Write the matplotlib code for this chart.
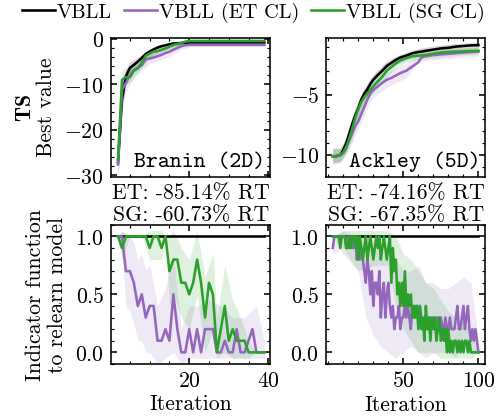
import numpy as np
import matplotlib
matplotlib.use("Agg")
import matplotlib.pyplot as plt

plt.rcParams["font.family"] = ["cmr10", "DejaVu Serif"]
plt.rcParams["mathtext.fontset"] = "cm"
plt.rcParams["axes.formatter.use_mathtext"] = True
plt.rcParams["font.size"] = 11
plt.rcParams["axes.linewidth"] = 0.8
plt.rcParams["xtick.direction"] = "in"
plt.rcParams["ytick.direction"] = "in"
plt.rcParams["xtick.top"] = True
plt.rcParams["ytick.right"] = True
plt.rcParams["xtick.major.size"] = 3
plt.rcParams["ytick.major.size"] = 3
plt.rcParams["xtick.minor.size"] = 1.5
plt.rcParams["ytick.minor.size"] = 1.5
plt.rcParams["xtick.minor.visible"] = True
plt.rcParams["ytick.minor.visible"] = True

labels = ["VBLL", "VBLL (ET CL)", "VBLL (SG CL)"]
colors = ["black", "#9467bd", "#2ca02c"]

# ---- Branin (2D), iterations 2..39 ----
branin_iter = np.arange(2, 40)
branin_best = {
    "VBLL": [-27.1, -13.3, -8.2, -6.4, -5.7, -5.0, -4.2, -3.3, -2.8, -2.3,
             -1.9, -1.6, -1.4, -1.2, -1.0, -0.95, -0.9, -0.85] + [-0.8] * 20,
    "VBLL (ET CL)": [-27.6, -11.2, -9.7, -8.0, -6.8, -6.3, -5.8, -4.5, -4.3, -4.1,
                     -3.8, -3.5, -3.1, -2.8, -2.4, -2.0, -1.6, -1.4] + [-1.3] * 20,
    "VBLL (SG CL)": [-26.5, -9.0, -8.4, -8.4, -7.0, -6.5, -5.3, -3.7, -3.2, -2.8,
                     -2.7, -2.4, -2.1, -1.7, -1.3, -1.1, -0.9, -0.6] + [-0.45] * 20,
}
branin_best_band = {
    "VBLL": ([2, 3, 4, 5, 6, 8, 10, 12, 15, 18, 20, 25, 30, 39],
             [-30.5, -16, -10, -8, -7, -5.5, -4, -3, -2, -1.3, -1.2, -1.1, -1.1, -1.1],
             [-24, -10, -6.5, -5, -4.5, -3.5, -2.2, -1.5, -0.9, -0.5, -0.5, -0.5, -0.5, -0.5]),
    "VBLL (ET CL)": ([2, 3, 4, 5, 6, 8, 10, 12, 15, 18, 20, 25, 39],
                     [-30.5, -14, -12, -10, -8.5, -7, -5.5, -4.8, -3.8, -2.4, -1.8, -1.7, -1.7],
                     [-25, -9, -7.5, -6.5, -5.5, -4.5, -3.3, -3.0, -2.0, -1.0, -0.9, -0.9, -0.9]),
    "VBLL (SG CL)": ([2, 3, 4, 5, 6, 8, 10, 12, 15, 18, 20, 25, 39],
                     [-28, -11, -10, -9.5, -8.5, -6.3, -4.2, -3.4, -2.4, -1.3, -0.8, -0.7, -0.7],
                     [-25, -6.5, -6.5, -6.5, -5.5, -4.0, -2.3, -1.9, -1.1, -0.5, -0.2, -0.2, -0.2]),
}
branin_ind = {
    "VBLL": [1.0] * 38,
    "VBLL (ET CL)": [1.0, 1.0, 0.7, 0.7, 0.6, 0.4, 0.5, 0.3, 0.4, 0.4,
                     0.1, 0.1, 0.2, 0.1, 0.5, 0.2, 0.0, 0.0, 0.2, 0.0,
                     0.2, 0.0, 0.2, 0.2, 0.2, 0.0, 0.0, 0.1, 0.0, 0.0,
                     0.2, 0.0, 0.0, 0.1, 0.2, 0.0, 0.0, 0.0],
    "VBLL (SG CL)": [1.0, 0.9, 1.0, 1.0, 1.0, 1.0, 1.0, 1.0, 0.9, 1.0,
                     1.0, 0.9, 1.0, 0.7, 0.8, 0.8, 0.6, 0.6, 0.5, 0.6,
                     0.8, 0.6, 0.3, 0.6, 0.5, 0.0, 0.2, 0.4, 0.1, 0.2,
                     0.1, 0.1, 0.1, 0.0, 0.0, 0.0, 0.0, 0.0],
}
branin_ind_band = {
    "VBLL (ET CL)": ([2, 3, 4, 5, 6, 7, 8, 9, 10, 12, 14, 16, 18, 20, 22, 25, 28, 31, 34, 37, 39],
                     [1.0, 0.85, 0.4, 0.35, 0.25, 0.1, 0.1, 0.0, 0.0, -0.1, -0.05, 0.0, -0.1, -0.05,
                      -0.05, -0.05, -0.05, -0.05, -0.05, -0.05, -0.05],
                     [1.0, 1.05, 1.0, 1.0, 0.95, 0.8, 0.85, 0.7, 0.75, 0.4, 0.55, 0.85, 0.2, 0.4,
                      0.4, 0.45, 0.4, 0.3, 0.3, 0.4, 0.1]),
    "VBLL (SG CL)": ([2, 3, 5, 8, 10, 13, 14, 15, 16, 18, 20, 22, 24, 26, 27, 29, 31, 33, 35, 37, 39],
                     [1.0, 0.8, 1.0, 1.0, 0.8, 0.8, 1.0, 0.4, 0.5, 0.3, 0.2, 0.5, 0.0, 0.2, -0.05,
                      0.0, -0.05, -0.05, -0.05, 0.0, 0.0],
                     [1.0, 1.05, 1.0, 1.0, 1.05, 1.05, 1.0, 1.0, 1.05, 0.9, 0.8, 1.05, 0.65, 0.85,
                      0.3, 0.75, 0.45, 0.3, 0.1, 0.0, 0.0]),
}

# ---- Ackley (5D) ----
ackley_iter = [3, 5, 8, 10, 12, 14, 16, 18, 20, 22, 24, 26, 28, 30, 33, 36, 39, 42, 45,
               48, 52, 56, 60, 62, 65, 70, 75, 80, 85, 90, 95, 100]
ackley_best = {
    "VBLL": [-10.1, -10.1, -10.0, -9.6, -9.0, -8.2, -7.4, -6.7, -6.1, -5.4, -4.9, -4.55,
             -4.1, -3.75, -3.35, -3.0, -2.6, -2.35, -2.1, -1.9, -1.75, -1.55, -1.45, -1.42,
             -1.35, -1.25, -1.15, -1.1, -1.0, -0.95, -0.9, -0.88],
    "VBLL (ET CL)": [-10.1, -10.1, -10.0, -9.8, -9.3, -8.8, -8.2, -7.6, -7.2, -6.6, -6.0,
                     -5.4, -4.9, -4.6, -4.3, -4.0, -3.75, -3.6, -3.4, -3.2, -3.0, -2.65,
                     -2.3, -1.9, -1.8, -1.7, -1.65, -1.6, -1.55, -1.5, -1.45, -1.42],
    "VBLL (SG CL)": [-10.1, -10.1, -10.0, -9.8, -9.4, -8.6, -7.8, -6.9, -6.2, -5.6, -5.2,
                     -4.9, -4.6, -4.3, -3.9, -3.5, -3.0, -2.7, -2.4, -2.15, -1.95, -1.8,
                     -1.75, -1.73, -1.7, -1.6, -1.5, -1.45, -1.42, -1.4, -1.37, -1.35],
}
ackley_band_x = [3, 8, 12, 16, 20, 24, 28, 33, 39, 45, 52, 60, 70, 80, 90, 100]
ackley_best_band = {
    "VBLL": (ackley_band_x,
             [-10.6, -10.5, -9.7, -8.0, -6.7, -5.4, -4.6, -3.8, -3.0, -2.5, -2.1, -1.8, -1.55, -1.4, -1.25, -1.15],
             [-9.5, -9.5, -8.5, -6.8, -5.5, -4.4, -3.6, -2.9, -2.2, -1.8, -1.45, -1.15, -0.95, -0.8, -0.7, -0.65]),
    "VBLL (ET CL)": (ackley_band_x,
                     [-10.7, -10.6, -9.9, -8.9, -7.8, -6.7, -5.5, -4.9, -4.4, -4.0, -3.6, -2.2, -2.1, -2.0, -1.9, -1.8],
                     [-9.5, -9.4, -8.7, -7.5, -6.6, -5.3, -4.3, -3.7, -3.1, -2.8, -2.4, -1.6, -1.35, -1.25, -1.2, -1.1]),
    "VBLL (SG CL)": (ackley_band_x,
                     [-10.8, -10.6, -10.0, -8.7, -6.9, -5.7, -5.1, -4.4, -3.5, -2.8, -2.3, -2.1, -1.95, -1.8, -1.7, -1.65],
                     [-9.4, -9.4, -8.8, -7.3, -5.5, -4.7, -4.1, -3.4, -2.5, -2.0, -1.6, -1.4, -1.3, -1.1, -1.1, -1.05]),
}
ackley_ind_iter = np.arange(3, 101)
ackley_ind = {
    "VBLL": [1.0] * 98,
    "VBLL (ET CL)": [0.9, 1.0, 1.0, 1.0, 1.0, 1.0, 1.0, 1.0, 1.0, 0.9,
                     1.0, 0.9, 1.0, 0.9, 0.9, 1.0, 0.8, 0.9, 0.8, 0.9,
                     0.8, 0.7, 0.6, 0.8, 0.7, 0.5, 0.7, 0.4, 0.6, 0.6,
                     0.5, 0.7, 0.3, 0.5, 0.6, 0.3, 0.5, 0.6, 0.4, 0.3,
                     0.4, 0.2, 0.3, 0.3, 0.4, 0.2, 0.3, 0.3, 0.4, 0.3,
                     0.4, 0.3, 0.2, 0.4, 0.3, 0.4, 0.4, 0.3, 0.4, 0.3,
                     0.2, 0.3, 0.3, 0.2, 0.3, 0.3, 0.2, 0.3, 0.2, 0.3,
                     0.3, 0.2, 0.3, 0.2, 0.2, 0.3, 0.2, 0.2, 0.3, 0.2,
                     0.2, 0.2, 0.3, 0.4, 0.2, 0.2, 0.3, 0.4, 0.2, 0.3,
                     0.4, 0.2, 0.1, 0.2, 0.1, 0.2, 0.1, 0.0],
    "VBLL (SG CL)": [1.0, 1.0, 1.0, 1.0, 1.0, 0.9, 1.0, 1.0, 1.0, 0.9,
                     0.9, 1.0, 0.9, 1.0, 1.0, 0.9, 1.0, 0.8, 1.0, 0.9,
                     0.8, 0.9, 1.0, 0.8, 0.9, 1.0, 0.9, 0.8, 0.9, 1.0,
                     0.9, 1.0, 0.8, 0.9, 1.0, 0.9, 0.8, 0.9, 1.0, 0.6,
                     0.9, 0.7, 0.8, 0.5, 0.6, 0.4, 0.6, 0.4, 0.7, 0.4,
                     0.5, 0.4, 0.5, 0.3, 0.4, 0.3, 0.4, 0.2, 0.4, 0.2,
                     0.3, 0.1, 0.4, 0.2, 0.3, 0.1, 0.3, 0.2, 0.3, 0.1,
                     0.2, 0.3, 0.1, 0.2, 0.1, 0.2, 0.0, 0.2, 0.0, 0.1,
                     0.0, 0.1, 0.1, 0.0, 0.1, 0.0, 0.1, 0.0, 0.1, 0.1,
                     0.0, 0.1, 0.0, 0.0, 0.0, 0.0, 0.0, 0.0],
}
ackley_ind_band = {
    "VBLL (ET CL)": ([3, 10, 20, 25, 30, 35, 40, 45, 50, 55, 60, 65, 70, 75, 80, 85, 90, 95, 100],
                     [0.85, 0.9, 0.7, 0.3, 0.15, 0.05, 0.0, -0.05, 0.0, 0.05, 0.0, -0.05, 0.0,
                      0.0, 0.0, -0.05, 0.1, 0.0, 0.0],
                     [1.0, 1.05, 1.0, 1.0, 0.95, 0.9, 0.8, 0.8, 0.7, 0.7, 0.75, 0.6, 0.6, 0.55,
                      0.55, 0.6, 0.65, 0.6, 0.1]),
    "VBLL (SG CL)": ([3, 10, 20, 30, 40, 45, 50, 55, 60, 65, 70, 75, 80, 85, 90, 95, 100],
                     [1.0, 0.85, 0.7, 0.75, 0.75, 0.4, 0.2, 0.1, 0.0, 0.0, 0.0, -0.05, -0.05,
                      -0.05, -0.05, -0.05, 0.0],
                     [1.0, 1.05, 1.05, 1.05, 1.05, 1.0, 0.85, 0.8, 0.7, 0.6, 0.55, 0.45, 0.35,
                      0.3, 0.25, 0.2, 0.0]),
}

DPI = 142.57
W, H = 499, 419
fig = plt.figure(figsize=((W + 0.5) / DPI, (H + 0.5) / DPI), dpi=DPI)

def add_ax(l, r, t, b):
    return fig.add_axes([l / W, 1 - b / H, (r - l) / W, (b - t) / H])

ax_bt = add_ax(111, 270, 38, 177)
ax_at = add_ax(326, 485, 38, 177)
ax_bb = add_ax(111, 270, 225, 364)
ax_ab = add_ax(326, 485, 225, 364)

def draw(ax, x, means, bands):
    for lab, col in zip(labels, colors):
        if lab in bands:
            bx, lo, hi = bands[lab]
            ax.fill_between(bx, lo, hi, color=col, alpha=0.15, lw=0)
    for lab, col in zip(labels, colors):
        ax.plot(x, means[lab], color=col, lw=1.3, label=lab)

draw(ax_bt, branin_iter, branin_best, branin_best_band)
draw(ax_at, ackley_iter, ackley_best, ackley_best_band)
draw(ax_bb, branin_iter, branin_ind, branin_ind_band)
draw(ax_ab, ackley_ind_iter, ackley_ind, ackley_ind_band)

for ax in (ax_bt, ax_bb):
    ax.set_xlim(0.25, 40.5)
    ax.set_xticks([20, 40])
for ax in (ax_at, ax_ab):
    ax.set_xlim(-1.3, 104.7)
    ax.set_xticks([50, 100])
ax_bt.tick_params(labelbottom=False)
ax_at.tick_params(labelbottom=False)

ax_bt.set_ylim(-30.3, 0.3)
ax_bt.set_yticks([0, -10, -20, -30])
ax_at.set_ylim(-11.8, -0.25)
ax_at.set_yticks([-5, -10])
for ax in (ax_bb, ax_ab):
    ax.set_ylim(-0.1, 1.1)
    ax.set_yticks([0.0, 0.5, 1.0])
    ax.set_xlabel("Iteration", labelpad=2)

ax_bt.text(0.97, 0.04, "Branin (2D)", transform=ax_bt.transAxes, ha="right", va="bottom",
           family="cmtt10", fontsize=11.5)
ax_at.text(0.97, 0.04, "Ackley (5D)", transform=ax_at.transAxes, ha="right", va="bottom",
           family="cmtt10", fontsize=11.5)

ax_bb.set_title("ET: -85.14% RT\nSG: -60.73% RT", fontsize=11, linespacing=1.15, pad=1)
ax_ab.set_title("ET: -74.16% RT\nSG: -67.35% RT", fontsize=11, linespacing=1.15, pad=1)

ax_bt.set_ylabel(r"$\mathbf{TS}$" + "\nBest value", linespacing=1.1)
ax_bb.set_ylabel("Indicator function\nto relearn model", linespacing=1.2)

handles, labs = ax_bt.get_legend_handles_labels()
fig.legend(handles, labs, loc="center left", bbox_to_anchor=(22 / W, 1 - 13 / H), ncol=3,
           frameon=False, handlelength=1.6, handletextpad=0.1, columnspacing=0.6,
           borderpad=0, borderaxespad=0, fontsize=10.3)

fig.savefig("out.png", dpi=DPI)
